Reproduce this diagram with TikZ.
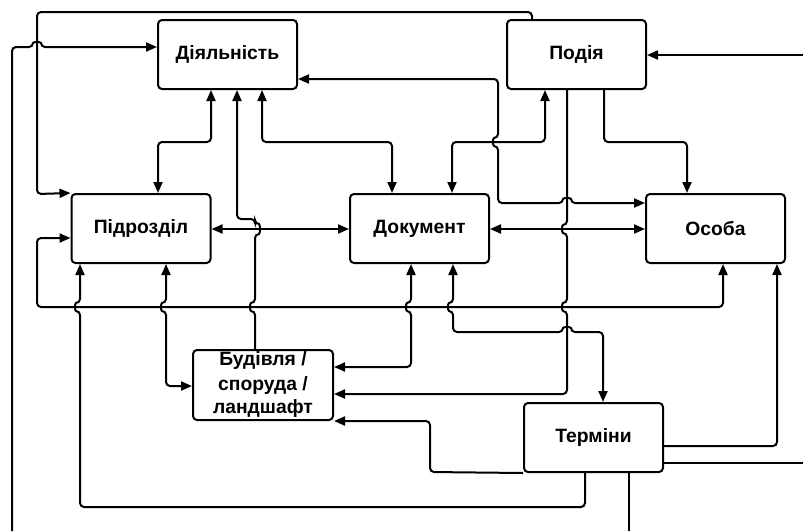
\documentclass[tikz,border=0pt]{standalone}
\usepackage{fontspec}
\setmainfont{Liberation Sans}
\usetikzlibrary{arrows.meta}
% jumps: vertical going up / down (bump to the left), horizontal going right (bump up)
\newcommand\jmpU[2]{-- (#1,#2+4) .. controls (#1-5.3,#2+4) and (#1-5.3,#2-4) .. (#1,#2-4)}
\newcommand\jmpD[2]{-- (#1,#2-4) .. controls (#1-5.3,#2-4) and (#1-5.3,#2+4) .. (#1,#2+4)}
\newcommand\jmpR[2]{-- (#1-4,#2) .. controls (#1-4,#2-5.3) and (#1+4,#2-5.3) .. (#1+4,#2)}
\tikzset{
  box/.style={draw, line width=2pt, rounded corners=4pt, minimum width=139pt,
    minimum height=69pt, inner sep=0pt, align=center,
    font=\bfseries\fontsize{19.3}{24}\selectfont},
  wire/.style={line width=2pt, rounded corners=4pt},
  oneway/.style={-{Triangle[length=11pt,width=9pt]}},
  twoway/.style={{Triangle[length=11pt,width=9pt]}-{Triangle[length=11pt,width=9pt]}},
}
\begin{document}
\begin{tikzpicture}[x=1pt,y=-1pt]
\useasboundingbox (0,0) rectangle (803,531);
\node[box] (dial) at (227.5,54.5) {Діяльність};
\node[box] (podia) at (576.5,54.5) {Подія};
\node[box] (pidr) at (141,228.5) {Підрозділ};
\node[box] (doc) at (419.5,228.5) {Документ};
\node[box] (osoba) at (715.5,228.5) {Особа};
\node[box, minimum width=140pt, minimum height=70pt] (bud) at (263,385) {Будівля /\\споруда /\\ландшафт};
\node[box] (term) at (593.5,437.5) {Терміни};
\coordinate (e1) at (12,531);
\coordinate (e2) at (629,531);
\coordinate (e3) at (803,55);
\coordinate (e4) at (803,463);
% connectors
\draw[wire,oneway] (podia.north -| 532,0) -- (532,12) -- (37,12) -- (37,194) -- (pidr.north west);
\draw[wire,oneway] (e1) -- (12,47) \jmpR{37}{47} -- (dial.west |- 0,47);
\draw[wire,twoway] (dial.south -| 211,0) -- (211,142) -- (158,142) -- (pidr.north -| 158,0);
\draw[wire,oneway] (bud.north -| 255,0) \jmpU{255}{307} -- (255,234) .. controls (260.3,234) and (260.3,224) .. (255,224) -- (255,219) -- (237,219) -- (dial.south -| 237,0);
\draw[wire,twoway] (dial.south -| 262,0) -- (262,142) -- (392,142) -- (doc.north -| 392,0);
\draw[wire,twoway] (dial.east |- 0,79) -- (498,79) \jmpD{498}{142} -- (498,203) \jmpR{567}{203} -- (osoba.west |- 0,203);
\draw[wire,twoway] (podia.south -| 545,0) -- (545,142) -- (452,142) -- (doc.north -| 452,0);
\draw[wire,oneway] (podia.south -| 604,0) -- (604,142) -- (687,142) -- (osoba.north -| 687,0);
\draw[wire,oneway] (podia.south -| 567,0) \jmpD{567}{229} \jmpD{567}{307} -- (567,394) -- (bud.east |- 0,394);
\draw[wire,twoway] (pidr.east |- 0,229) -- (doc.west |- 0,229);
\draw[wire,twoway] (doc.east |- 0,229) -- (osoba.west |- 0,229);
\draw[wire,twoway] (osoba.south -| 723,0) -- (723,307) -- (37,307) -- (37,238) -- (pidr.west |- 0,238);
\draw[wire,twoway] (doc.south -| 411,0) \jmpD{411}{307} -- (411,367) -- (bud.east |- 0,367);
\draw[wire,twoway] (doc.south -| 453,0) \jmpD{453}{307} -- (453,332) \jmpR{567}{332} -- (603,332) -- (term.north -| 603,0);
\draw[wire,oneway] (term.east |- 0,446) -- (777,446) -- (osoba.south -| 777,0);
\draw[wire,oneway] (term.south west) -- (430,472) -- (430,421) -- (bud.east |- 0,421);
\draw[wire,twoway] (pidr.south -| 166,0) \jmpD{166}{307} -- (166,386) -- (bud.west |- 0,386);
\draw[wire,oneway] (term.south -| 585,0) -- (585,507) -- (80,507) \jmpU{80}{307} -- (pidr.south -| 80,0);
\draw[wire] (term.south -| 629,0) -- (e2);
\draw[wire,oneway] (e3) -- (podia.east |- 0,55);
\draw[wire] (term.east |- 0,463) -- (e4);
\end{tikzpicture}
\end{document}
